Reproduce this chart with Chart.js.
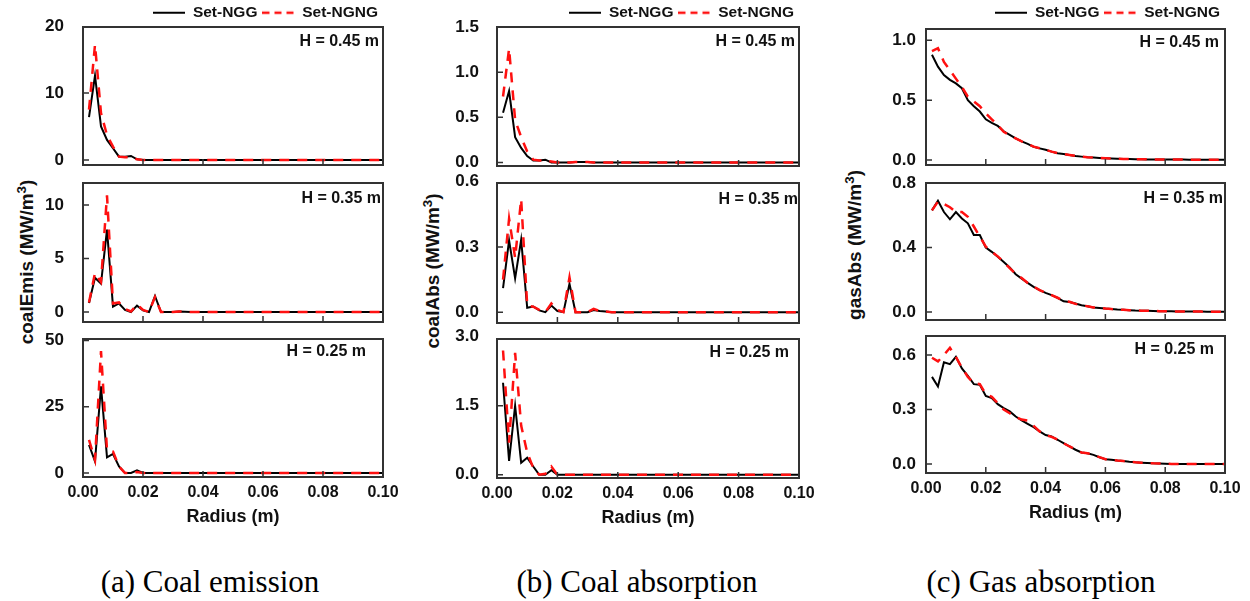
<!DOCTYPE html>
<html>
<head>
<meta charset="utf-8">
<script src="https://cdn.jsdelivr.net/npm/chart.js@4.4.1/dist/chart.umd.min.js"></script>
<style>
html, body { margin: 0; padding: 0; background: #fff; }
body { width: 1250px; height: 601px; position: relative; overflow: hidden; font-family: "Liberation Sans", Arial, sans-serif; }
canvas { position: absolute; }
.ytitle { position: absolute; white-space: nowrap; font-weight: bold; font-size: 19px; color: #111; transform: translate(-50%, -50%) rotate(-90deg); }
.ytitle sup { font-size: 0.7em; line-height: 0; }
.caption { position: absolute; font-family: "Liberation Serif", "Times New Roman", serif; font-size: 31px; line-height: 31px; color: #000; white-space: nowrap; transform: translateX(-50%); }
</style>
</head>
<body>
<div class="ytitle" style="left:27px; top:262px;">coalEmis (MW/m<sup>3</sup>)</div>
<div class="ytitle" style="left:433px; top:271px;">coalAbs (MW/m<sup>3</sup>)</div>
<div class="ytitle" style="left:855px; top:245px;">gasAbs (MW/m<sup>3</sup>)</div>
<div class="caption" style="left:210px; top:566px;">(a) Coal emission</div>
<div class="caption" style="left:637px; top:566px;">(b) Coal absorption</div>
<div class="caption" style="left:1041px; top:566px;">(c) Gas absorption</div>
<script>
const radius = [0.002, 0.004, 0.006, 0.008, 0.010, 0.012, 0.014, 0.016, 0.018, 0.020,
	0.022, 0.024, 0.026, 0.028, 0.030, 0.032, 0.034, 0.036, 0.038, 0.040,
	0.042, 0.044, 0.046, 0.048, 0.050, 0.052, 0.054, 0.056, 0.058, 0.060,
	0.062, 0.064, 0.066, 0.068, 0.070, 0.072, 0.074, 0.076, 0.078, 0.080,
	0.082, 0.084, 0.086, 0.088, 0.090, 0.092, 0.094, 0.096, 0.098, 0.100];
const xTicks = [0, 0.02, 0.04, 0.06, 0.08, 0.10];

// coal emission
const emis45Ngg = [6.4, 12.6, 5.0, 3.0, 1.75, 0.5, 0.5, 0.6, 0.1, 0,
	0, 0, 0, 0, 0, 0, 0, 0, 0, 0, 0, 0, 0, 0, 0, 0, 0, 0, 0, 0,
	0, 0, 0, 0, 0, 0, 0, 0, 0, 0, 0, 0, 0, 0, 0, 0, 0, 0, 0, 0];
const emis45Ngng = [7.5, 17.2, 7.0, 3.7, 2.0, 0.5, 0.4, 0.4, 0.1, 0,
	0, 0, 0, 0, 0, 0, 0, 0, 0, 0, 0, 0, 0, 0, 0, 0, 0, 0, 0, 0,
	0, 0, 0, 0, 0, 0, 0, 0, 0, 0, 0, 0, 0, 0, 0, 0, 0, 0, 0, 0];
const emis35Ngg = [0.85, 3.2, 2.65, 7.7, 0.5, 0.8, 0.2, 0, 0.6, 0.15,
	0, 1.5, 0, 0, 0, 0.05, 0.03, 0, 0, 0, 0, 0, 0, 0, 0, 0, 0, 0, 0, 0,
	0, 0, 0, 0, 0, 0, 0, 0, 0, 0, 0, 0, 0, 0, 0, 0, 0, 0, 0, 0];
const emis35Ngng = [0.9, 3.65, 2.8, 10.9, 0.8, 0.9, 0.3, 0.05, 0.7, 0.2,
	0, 1.4, 0, 0, 0, 0.05, 0.03, 0, 0, 0, 0, 0, 0, 0, 0, 0, 0, 0, 0, 0,
	0, 0, 0, 0, 0, 0, 0, 0, 0, 0, 0, 0, 0, 0, 0, 0, 0, 0, 0, 0];
const emis25Ngg = [10.6, 4.4, 32.7, 5.9, 7.2, 2.5, 0, 0, 1.0, 0,
	0, 0, 0, 0, 0, 0, 0, 0, 0, 0, 0, 0, 0, 0, 0, 0, 0, 0, 0, 0,
	0, 0, 0, 0, 0, 0, 0, 0, 0, 0, 0, 0, 0, 0, 0, 0, 0, 0, 0, 0];
const emis25Ngng = [12.5, 5.0, 46, 8.7, 8.1, 2.5, 0, 0, 0.4, 0,
	0, 0, 0, 0, 0, 0, 0, 0, 0, 0, 0, 0, 0, 0, 0, 0, 0, 0, 0, 0,
	0, 0, 0, 0, 0, 0, 0, 0, 0, 0, 0, 0, 0, 0, 0, 0, 0, 0, 0, 0];

// coal absorption
const abs45Ngg = [0.55, 0.79, 0.28, 0.16, 0.07, 0.02, 0.02, 0.03, 0, 0,
	0, 0, 0.005, 0.005, 0.003, 0, 0, 0, 0, 0, 0, 0, 0, 0, 0, 0, 0, 0, 0, 0,
	0, 0, 0, 0, 0, 0, 0, 0, 0, 0, 0, 0, 0, 0, 0, 0, 0, 0, 0, 0];
const abs45Ngng = [0.73, 1.26, 0.47, 0.28, 0.12, 0.03, 0.02, 0.02, 0.01, 0,
	0, 0, 0.005, 0.005, 0.003, 0, 0, 0, 0, 0, 0, 0, 0, 0, 0, 0, 0, 0, 0, 0,
	0, 0, 0, 0, 0, 0, 0, 0, 0, 0, 0, 0, 0, 0, 0, 0, 0, 0, 0, 0];
const abs35Ngg = [0.11, 0.33, 0.155, 0.333, 0.02, 0.026, 0.008, 0, 0.03, 0.005,
	0, 0.13, 0, 0, 0, 0.01, 0.005, 0.003, 0, 0, 0, 0, 0, 0, 0, 0, 0, 0, 0, 0,
	0, 0, 0, 0, 0, 0, 0, 0, 0, 0, 0, 0, 0, 0, 0, 0, 0, 0, 0, 0];
const abs35Ngng = [0.15, 0.43, 0.25, 0.52, 0.03, 0.025, 0.01, 0, 0.04, 0.01,
	0, 0.16, 0, 0, 0, 0.015, 0.005, 0.003, 0, 0, 0, 0, 0, 0, 0, 0, 0, 0, 0, 0,
	0, 0, 0, 0, 0, 0, 0, 0, 0, 0, 0, 0, 0, 0, 0, 0, 0, 0, 0, 0];
const abs25Ngg = [2.0, 0.3, 1.5, 0.26, 0.37, 0.18, 0, 0, 0.1, 0,
	0, 0, 0, 0, 0, 0, 0, 0, 0, 0, 0, 0, 0, 0, 0, 0, 0, 0, 0, 0,
	0, 0, 0, 0, 0, 0, 0, 0, 0, 0, 0, 0, 0, 0, 0, 0, 0, 0, 0, 0];
const abs25Ngng = [2.7, 0.7, 2.65, 1.07, 0.48, 0.15, 0, 0.02, 0.18, 0,
	0, 0, 0, 0, 0, 0, 0, 0, 0, 0, 0, 0, 0, 0, 0, 0, 0, 0, 0, 0,
	0, 0, 0, 0, 0, 0, 0, 0, 0, 0, 0, 0, 0, 0, 0, 0, 0, 0, 0, 0];

// gas absorption
const gas45Ngg = [0.88, 0.78, 0.71, 0.67, 0.64, 0.60, 0.50, 0.45, 0.405, 0.34,
	0.31, 0.285, 0.24, 0.21, 0.18, 0.155, 0.135, 0.11, 0.097, 0.085,
	0.07, 0.056, 0.05, 0.042, 0.034, 0.028, 0.022, 0.02, 0.017, 0.014,
	0.012, 0.01, 0.009, 0.008, 0.007, 0.006, 0.005, 0.005, 0.004, 0.004,
	0.003, 0.003, 0.003, 0.002, 0.002, 0.002, 0.002, 0.001, 0.001, 0.001];
const gas45Ngng = [0.91, 0.935, 0.82, 0.75, 0.68, 0.61, 0.53, 0.49, 0.45, 0.39,
	0.34, 0.29, 0.235, 0.205, 0.18, 0.155, 0.135, 0.112, 0.098, 0.085,
	0.07, 0.058, 0.05, 0.042, 0.035, 0.028, 0.023, 0.02, 0.017, 0.014,
	0.012, 0.01, 0.009, 0.008, 0.007, 0.006, 0.005, 0.005, 0.004, 0.004,
	0.003, 0.003, 0.003, 0.002, 0.002, 0.002, 0.002, 0.001, 0.001, 0.001];
const gas35Ngg = [0.63, 0.69, 0.62, 0.575, 0.62, 0.58, 0.55, 0.477, 0.477, 0.40,
	0.373, 0.342, 0.31, 0.276, 0.234, 0.207, 0.18, 0.156, 0.135, 0.118,
	0.104, 0.087, 0.066, 0.062, 0.052, 0.041, 0.035, 0.027, 0.025, 0.021,
	0.018, 0.015, 0.013, 0.011, 0.009, 0.008, 0.007, 0.006, 0.005, 0.004,
	0.004, 0.003, 0.003, 0.002, 0.002, 0.002, 0.001, 0.001, 0.001, 0.001];
const gas35Ngng = [0.63, 0.685, 0.67, 0.65, 0.62, 0.62, 0.59, 0.53, 0.467, 0.405,
	0.373, 0.345, 0.31, 0.272, 0.236, 0.21, 0.18, 0.158, 0.135, 0.12,
	0.104, 0.088, 0.07, 0.063, 0.05, 0.042, 0.035, 0.028, 0.025, 0.021,
	0.018, 0.015, 0.013, 0.011, 0.009, 0.008, 0.007, 0.006, 0.005, 0.004,
	0.004, 0.003, 0.003, 0.002, 0.002, 0.002, 0.001, 0.001, 0.001, 0.001];
const gas25Ngg = [0.48, 0.427, 0.56, 0.55, 0.59, 0.527, 0.485, 0.44, 0.436, 0.375,
	0.363, 0.33, 0.308, 0.29, 0.262, 0.24, 0.222, 0.203, 0.18, 0.16,
	0.152, 0.134, 0.115, 0.097, 0.079, 0.064, 0.06, 0.051, 0.038, 0.027,
	0.024, 0.02, 0.017, 0.013, 0.01, 0.008, 0.006, 0.004, 0.003, 0.002,
	0.001, 0.001, 0.001, 0.001, 0, 0, 0, 0, 0, 0];
const gas25Ngng = [0.585, 0.565, 0.60, 0.64, 0.59, 0.53, 0.48, 0.445, 0.44, 0.385,
	0.37, 0.335, 0.30, 0.28, 0.26, 0.245, 0.24, 0.21, 0.18, 0.16,
	0.15, 0.135, 0.115, 0.097, 0.08, 0.064, 0.06, 0.05, 0.038, 0.027,
	0.024, 0.02, 0.017, 0.013, 0.01, 0.008, 0.006, 0.004, 0.003, 0.002,
	0.001, 0.001, 0.001, 0.001, 0, 0, 0, 0, 0, 0];

const emisTicks45 = [0, 10, 20];
const emisTicks35 = [0, 5, 10];
const emisTicks25 = [0, 25, 50];
const absTicks45 = [0, 0.5, 1.0, 1.5];
const absTicks35 = [0, 0.3, 0.6];
const absTicks25 = [0, 1.5, 3.0];
const gasTicks45 = [0, 0.5, 1.0];
const gasTicks35 = [0, 0.4, 0.8];
const gasTicks25 = [0, 0.3, 0.6];

const columns = [
	{ left: 83, right: 383, tickPad: 19, dec: 0 },
	{ left: 497, right: 799, tickPad: 18, dec: 1 },
	{ left: 926, right: 1225, tickPad: 10, dec: 1 }
];

const panels = [
	{ col: 0, row: 0, top: 27, bottom: 165, min: -0.75, max: 19.85, ticks: emisTicks45, ngg: emis45Ngg, ngng: emis45Ngng, label: 'H = 0.45 m', dx: 4, dy: 15 },
	{ col: 0, row: 1, top: 183, bottom: 322, min: -0.93, max: 12.06, ticks: emisTicks35, ngg: emis35Ngg, ngng: emis35Ngng, label: 'H = 0.35 m', dx: 2, dy: 16 },
	{ col: 0, row: 2, top: 339, bottom: 477, min: -1.5, max: 50.6, ticks: emisTicks25, ngg: emis25Ngg, ngng: emis25Ngng, label: 'H = 0.25 m', dx: 17, dy: 13 },
	{ col: 1, row: 0, top: 27, bottom: 166, min: -0.04, max: 1.5, ticks: absTicks45, ngg: abs45Ngg, ngng: abs45Ngng, label: 'H = 0.45 m', dx: 4, dy: 15 },
	{ col: 1, row: 1, top: 183, bottom: 323, min: -0.05, max: 0.594, ticks: absTicks35, ngg: abs35Ngg, ngng: abs35Ngng, label: 'H = 0.35 m', dx: 1, dy: 17 },
	{ col: 1, row: 2, top: 339, bottom: 478, min: -0.07, max: 2.95, ticks: absTicks25, ngg: abs25Ngg, ngng: abs25Ngng, label: 'H = 0.25 m', dx: 10, dy: 14 },
	{ col: 2, row: 0, top: 29, bottom: 165, min: -0.042, max: 1.095, ticks: gasTicks45, ngg: gas45Ngg, ngng: gas45Ngng, label: 'H = 0.45 m', dx: 6, dy: 14 },
	{ col: 2, row: 1, top: 183, bottom: 320, min: -0.05, max: 0.80, ticks: gasTicks35, ngg: gas35Ngg, ngng: gas35Ngng, label: 'H = 0.35 m', dx: 2, dy: 16 },
	{ col: 2, row: 2, top: 336, bottom: 473, min: -0.049, max: 0.705, ticks: gasTicks25, ngg: gas25Ngg, ngng: gas25Ngng, label: 'H = 0.25 m', dx: 11, dy: 14 }
];

Chart.defaults.font.family = '"Liberation Sans", Arial, sans-serif';
Chart.defaults.color = '#111';

// box, inward ticks and the height label
const framePlugin = {
	id: 'frame',
	afterDatasetsDraw(chart, args, opts) {
		const { ctx, chartArea: a } = chart;
		const xs = chart.scales.x;
		const ys = chart.scales.y;
		ctx.save();
		ctx.strokeStyle = '#333';
		ctx.lineWidth = 2;
		ctx.strokeRect(a.left, a.top, a.right - a.left, a.bottom - a.top);
		ctx.lineWidth = 1.5;
		ctx.beginPath();
		xTicks.forEach((v) => {
			const px = xs.getPixelForValue(v);
			ctx.moveTo(px, a.bottom);
			ctx.lineTo(px, a.bottom - 6);
		});
		ys.ticks.forEach((t) => {
			const py = ys.getPixelForValue(t.value);
			if (py > a.top + 1 && py < a.bottom - 1) {
				ctx.moveTo(a.left, py);
				ctx.lineTo(a.left + 6, py);
			}
		});
		ctx.stroke();
		ctx.font = 'bold 16px "Liberation Sans", Arial, sans-serif';
		ctx.fillStyle = '#111';
		ctx.textAlign = 'right';
		ctx.textBaseline = 'middle';
		ctx.fillText(opts.label, a.right - opts.dx, a.top + opts.dy);
		ctx.restore();
	}
};

// legend box takes exactly the space above the plot
const legendHeight = {
	id: 'legendHeight',
	beforeInit(chart) {
		if (!chart.legend) {
			return;
		}
		const fit = chart.legend.fit;
		chart.legend.fit = function () {
			fit.call(this);
			if (this.options.display) {
				this.height = chart.options.plugins.legendHeight.h;
			}
		};
	}
};

// small line samples for the legend
function lineSample(color, width, dash) {
	const c = document.createElement('canvas');
	c.width = 32;
	c.height = 6;
	const g = c.getContext('2d');
	g.strokeStyle = color;
	g.lineWidth = width;
	g.setLineDash(dash);
	g.beginPath();
	g.moveTo(0, 3);
	g.lineTo(32, 3);
	g.stroke();
	return c;
}

function makePanel(p) {
	const col = columns[p.col];
	const axisW = 60;
	const padR = 25;
	const isTop = p.row === 0;
	const isBottom = p.row === 2;
	const padTop = isTop ? 0 : 14;
	const padBottom = isBottom ? 0 : 12;
	const xAxisH = isBottom ? 60 : 0;
	const canvasTop = isTop ? 0 : p.top - padTop;
	const w = axisW + (col.right - col.left) + padR;
	const h = (p.bottom - canvasTop) + padBottom + xAxisH;

	const canvas = document.createElement('canvas');
	canvas.width = w;
	canvas.height = h;
	canvas.style.left = `${col.left - axisW}px`;
	canvas.style.top = `${canvasTop}px`;
	canvas.style.width = `${w}px`;
	canvas.style.height = `${h}px`;
	document.body.appendChild(canvas);

	return new Chart(canvas.getContext('2d'), {
		type: 'line',
		data: {
			labels: radius,
			datasets: [
				{
					label: 'Set-NGG',
					data: p.ngg,
					borderColor: '#000',
					backgroundColor: '#000',
					borderWidth: 2,
					pointRadius: 0,
					tension: 0,
					order: 1
				},
				{
					label: 'Set-NGNG',
					data: p.ngng,
					borderColor: '#ff1010',
					backgroundColor: '#ff1010',
					borderWidth: 2.5,
					borderDash: [10, 8],
					pointRadius: 0,
					tension: 0,
					order: 0
				}
			]
		},
		options: {
			responsive: false,
			animation: false,
			devicePixelRatio: 1,
			layout: { padding: { top: padTop, bottom: padBottom, left: 0, right: padR } },
			plugins: {
				tooltip: { enabled: false },
				legendHeight: { h: p.top },
				frame: { label: p.label, dx: p.dx, dy: p.dy },
				legend: {
					display: isTop,
					position: 'top',
					align: 'end',
					labels: {
						usePointStyle: true,
						pointStyleWidth: 32,
						boxHeight: 10,
						padding: 5,
						color: '#111',
						font: { size: 15.5, weight: 'bold' },
						generateLabels(chart) {
							const items = Chart.defaults.plugins.legend.labels.generateLabels(chart);
							items.sort((a, b) => a.datasetIndex - b.datasetIndex);
							items.forEach((it) => {
								const ds = chart.data.datasets[it.datasetIndex];
								it.pointStyle = lineSample(ds.borderColor, ds.borderWidth, ds.borderDash ? [7, 5] : []);
							});
							return items;
						}
					}
				}
			},
			scales: {
				x: {
					type: 'linear',
					min: 0,
					max: 0.1,
					display: isBottom,
					afterBuildTicks: (s) => { s.ticks = xTicks.map((v) => ({ value: v })); },
					afterFit: (s) => {
						s.height = xAxisH;
						s.paddingLeft = 0;
						s.paddingRight = 0;
					},
					ticks: {
						padding: 6,
						autoSkip: false,
						maxRotation: 0,
						color: '#111',
						font: { size: 16, weight: 'bold' },
						callback: (v) => Number(v).toFixed(2)
					},
					grid: { display: false, drawTicks: false },
					border: { display: false },
					title: {
						display: true,
						text: 'Radius (m)',
						color: '#111',
						font: { size: 18, weight: 'bold' },
						padding: { top: 4, bottom: 9 }
					}
				},
				y: {
					min: p.min,
					max: p.max,
					afterBuildTicks: (s) => { s.ticks = p.ticks.map((v) => ({ value: v })); },
					afterFit: (s) => {
						s.width = axisW;
						s.paddingTop = 0;
						s.paddingBottom = 0;
					},
					ticks: {
						padding: col.tickPad,
						autoSkip: false,
						color: '#111',
						font: { size: 17, weight: 'bold' },
						callback: (v) => Number(v).toFixed(col.dec)
					},
					grid: { display: false, drawTicks: false },
					border: { display: false }
				}
			}
		},
		plugins: [framePlugin, legendHeight]
	});
}

panels.forEach(makePanel);
</script>
</body>
</html>
